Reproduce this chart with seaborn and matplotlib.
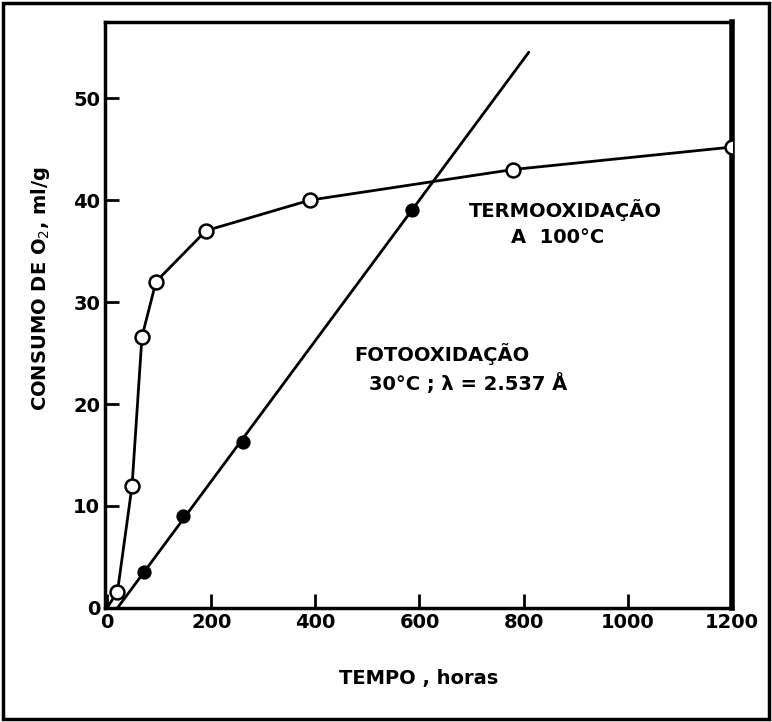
import numpy as np
import pandas as pd
import seaborn as sns
import matplotlib.pyplot as plt
from matplotlib.patches import Rectangle

# termooxidacao a 100 C (open circles)
termo_horas = [0, 20, 48, 67, 94, 190, 390, 780, 1200]
termo_o2 = [0, 1.6, 12, 26.6, 32, 37, 40, 43, 45.2]

# fotooxidacao 30 C (filled circles)
foto_horas = [70, 145, 262, 585]
foto_o2 = [3.5, 9, 16.3, 39]
# straight fitted line drawn through them
foto_linha_horas = [20, 810]
foto_linha_o2 = [0, 54.5]

x_ticks = [0, 200, 400, 600, 800, 1000, 1200]
y_ticks = [0, 10, 20, 30, 40, 50]

sns.set_style("ticks")
plt.rcParams['font.family'] = ['DejaVu Sans']
plt.rcParams['text.color'] = 'black'
plt.rcParams['axes.labelcolor'] = 'black'

fig = plt.figure(figsize=(7.72, 7.22), dpi=100)
ax = fig.add_axes([0.136, 0.158, 0.812, 0.812])

termo = pd.DataFrame({'horas': termo_horas, 'o2': termo_o2})
foto = pd.DataFrame({'horas': foto_horas, 'o2': foto_o2})
linha = pd.DataFrame({'horas': foto_linha_horas, 'o2': foto_linha_o2})

sns.lineplot(data=termo, x='horas', y='o2', color='black', lw=2, ax=ax)
sns.scatterplot(data=termo.iloc[1:], x='horas', y='o2', s=100, facecolor='white',
                edgecolor='black', linewidth=1.8, zorder=5, ax=ax)
sns.lineplot(data=linha, x='horas', y='o2', color='black', lw=2, ax=ax)
sns.scatterplot(data=foto, x='horas', y='o2', s=90, color='black',
                edgecolor='black', zorder=5, ax=ax)

ax.set_xlim(-4, 1200)
ax.set_ylim(0, 57.5)
ax.set_xticks(x_ticks)
ax.set_yticks(y_ticks)
ax.tick_params(direction='in', length=10, width=2, labelsize=14, colors='black')
for lab in ax.get_xticklabels() + ax.get_yticklabels():
    lab.set_fontweight('bold')
for s in ax.spines.values():
    s.set_linewidth(2.5)
    s.set_color('black')
ax.spines['right'].set_linewidth(4)

ax.set_xlabel('TEMPO , horas', fontsize=14, fontweight='bold', color='black')
ax.set_ylabel('CONSUMO DE O$_2$, ml/g', fontsize=14, fontweight='bold', color='black')
ax.xaxis.set_label_coords(0.5, -0.105)
ax.yaxis.set_label_coords(-0.085, 0.545)

ax.text(695, 39, 'TERMOOXIDAÇÃO', fontsize=14, fontweight='bold', va='center', color='black')
ax.text(775, 36.3, 'A  100°C', fontsize=14, fontweight='bold', va='center', color='black')
ax.text(475, 24.9, 'FOTOOXIDAÇÃO', fontsize=14, fontweight='bold', va='center', color='black')
ax.text(503, 22, '30°C ; λ = 2.537 Å', fontsize=14, fontweight='bold', va='center', color='black')

fig.patches.append(Rectangle((0.004, 0.004), 0.992, 0.992, transform=fig.transFigure,
                             fill=False, edgecolor='black', lw=2.5))

fig.savefig('out.png', dpi=100, facecolor='white')
